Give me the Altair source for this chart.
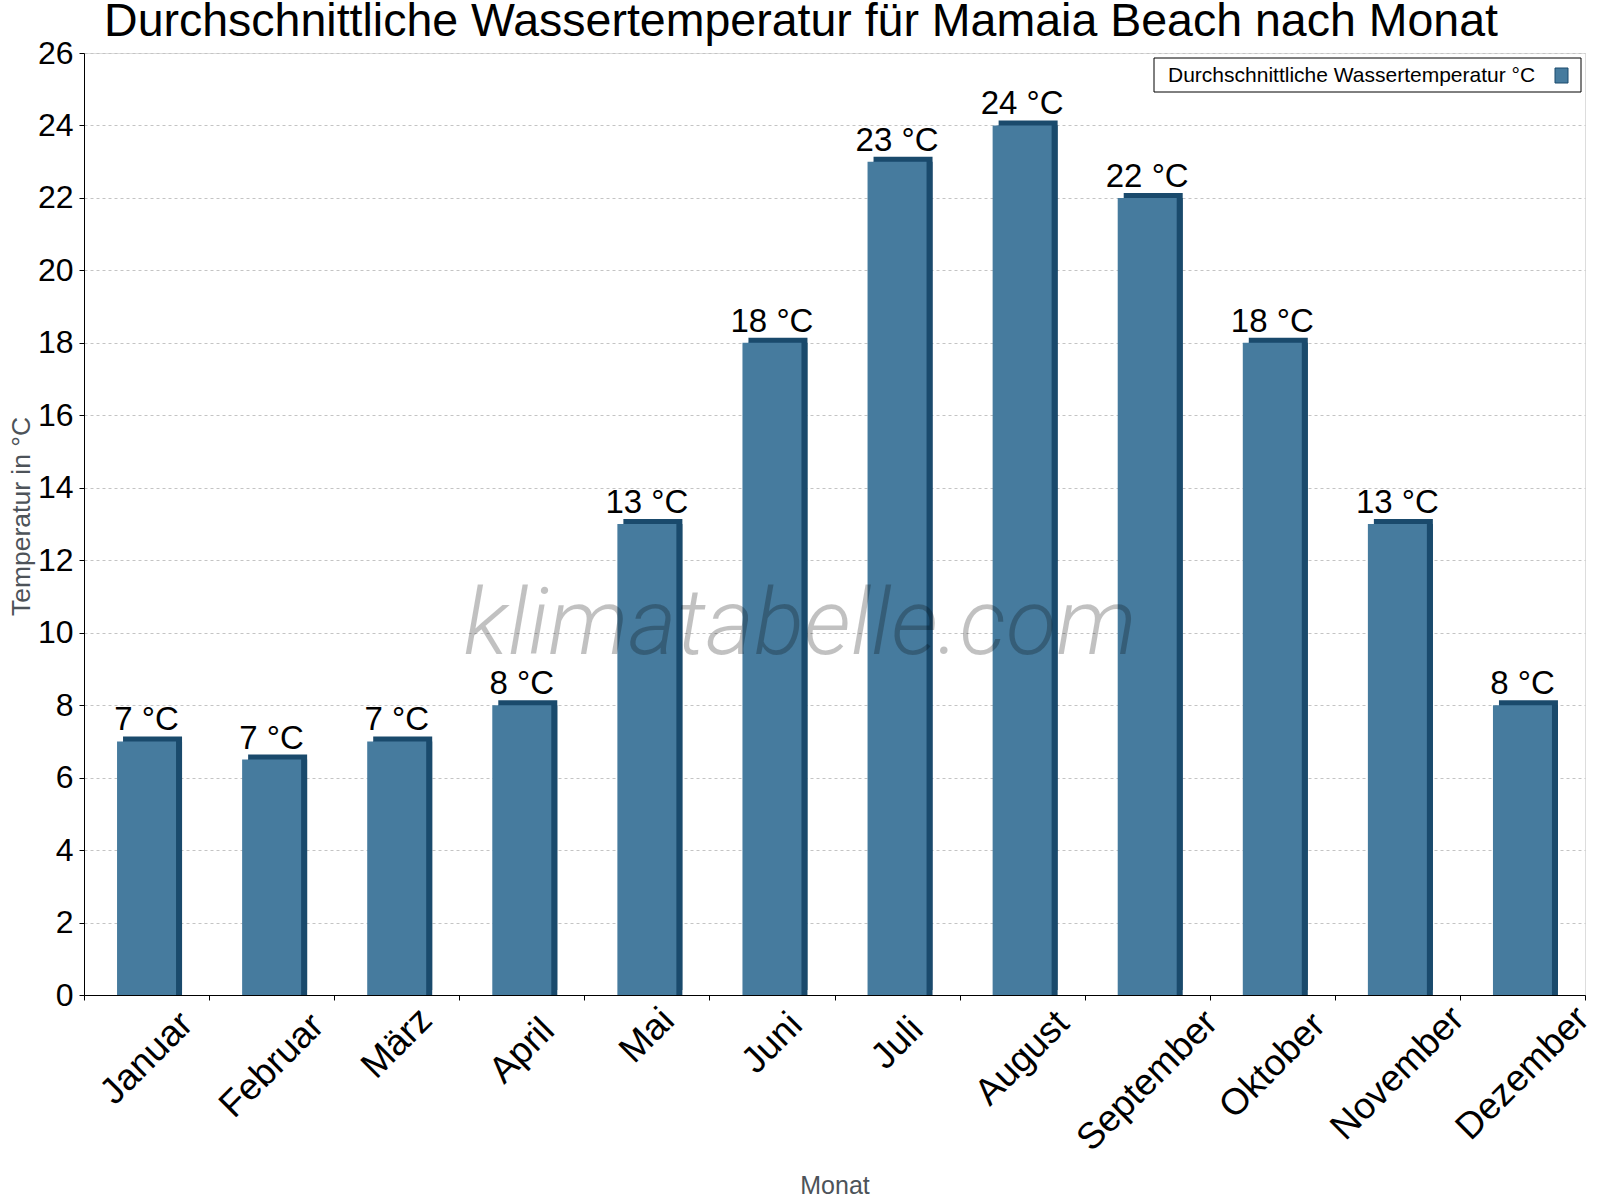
import altair as alt
import pandas as pd

# ---- data ----
MONTHS = ["Januar", "Februar", "März", "April", "Mai", "Juni", "Juli",
          "August", "September", "Oktober", "November", "Dezember"]
TEMPS = [7, 6.5, 7, 8, 13, 18, 23, 24, 22, 18, 13, 8]
LABELS = ["7 °C", "7 °C", "7 °C", "8 °C", "13 °C", "18 °C", "23 °C",
          "24 °C", "22 °C", "18 °C", "13 °C", "8 °C"]
Y_TICKS = list(range(0, 27, 2))
TITLE = ["Durchschnittliche Wassertemperatur für Mamaia Beach nach Monat"]
SERIES = ["Durchschnittliche Wassertemperatur °C"]
X_TITLE = "Monat"
Y_TITLE = "Temperatur in °C"
WATERMARK = ["klimatabelle.com"]

FRONT = "#467b9e"
DARK = "#1a4a6c"
FONT = "Liberation Sans"
AXIS_TITLE_COLOR = "#4d5359"

df = pd.DataFrame({"Monat": MONTHS, "Temp": TEMPS, "Label": LABELS})

x_enc = alt.X(
    "Monat:N", sort=MONTHS,
    scale=alt.Scale(paddingInner=0, paddingOuter=0),
    axis=alt.Axis(
        title=X_TITLE, titleFont=FONT, titleFontSize=25, titleFontWeight="normal",
        titleColor=AXIS_TITLE_COLOR, titleY=198, titleBaseline="alphabetic",
        labelAngle=315, labelAlign="center", labelBaseline="middle",
        labelFont=FONT, labelFontSize=37, labelColor="black", labelLimit=0,
        labelPadding={"expr": "13 + 7.5*length(datum.label)"},
        labelOverlap=False, labelBound=False, labelFlush=False,
        tickBand="extent", tickSize=5, tickColor="black",
        domainColor="black", grid=False,
    ),
)
y_enc = alt.Y(
    "Temp:Q",
    scale=alt.Scale(domain=[0, 26], nice=False, zero=True),
    axis=alt.Axis(
        title=Y_TITLE, values=Y_TICKS, titleFont=FONT, titleFontSize=26.5,
        titleFontWeight="normal", titleColor=AXIS_TITLE_COLOR,
        titleX=-63, titleY=463, titleAngle=270, titleAlign="center",
        titleBaseline="middle",
        labelFont=FONT, labelFontSize=32, labelColor="black", labelPadding=6,
        tickSize=5, tickColor="black", domainColor="black",
        grid=True, gridColor="#c4c4c4", gridDash=[3, 3], gridWidth=1,
    ),
)

base = alt.Chart(df)
# 3D effect: dark top face + dark side strip behind the front face
dark_top = base.mark_bar(size=59, xOffset=6, yOffset=-5, color=DARK).encode(x=x_enc, y=y_enc)
dark_side = base.mark_bar(size=59, xOffset=6, color=DARK).encode(x=x_enc, y=y_enc)
front = base.mark_bar(size=59, color=FRONT).encode(x=x_enc, y=y_enc)
labels = base.mark_text(dy=-11, baseline="alphabetic", align="center", fontSize=33,
                        font=FONT, color="black").encode(x=x_enc, y=y_enc, text="Label:N")

wm = alt.Chart(pd.DataFrame({"wm": WATERMARK})).mark_text(
    font="Roboto", fontWeight=300, fontStyle="italic", fontSize=93,
    color="black", opacity=0.24, align="center", baseline="alphabetic",
).encode(x=alt.value(716), y=alt.value(601), text="wm:N")

title = alt.Chart(pd.DataFrame({"t": TITLE})).mark_text(
    font=FONT, fontSize=46.5, color="black", align="center", baseline="alphabetic",
).encode(x=alt.value(717), y=alt.value(-17), text="t:N")

leg_df = pd.DataFrame({"series": SERIES})
leg_box = alt.Chart(leg_df).mark_rect(fill="white", stroke="black", strokeWidth=1).encode(
    x=alt.value(1070), x2=alt.value(1497), y=alt.value(5), y2=alt.value(39))
leg_text = alt.Chart(leg_df).mark_text(
    font=FONT, fontSize=21, color="black", align="left", baseline="middle"
).encode(x=alt.value(1084), y=alt.value(22.5), text="series:N")
leg_sym = alt.Chart(leg_df).mark_rect(fill=FRONT, stroke=DARK, strokeWidth=1).encode(
    x=alt.value(1471), x2=alt.value(1484), y=alt.value(15), y2=alt.value(30))

chart = alt.layer(dark_top, dark_side, front, wm, labels, title,
                  leg_box, leg_text, leg_sym).properties(
    width=1501, height=942,
    autosize=alt.AutoSizeParams(type="none"),
    padding={"left": 84, "top": 53, "right": 15, "bottom": 205},
).configure_view(stroke=None).configure(background="white")

chart.save("out.html", embed_options={"renderer": "svg", "actions": False})
